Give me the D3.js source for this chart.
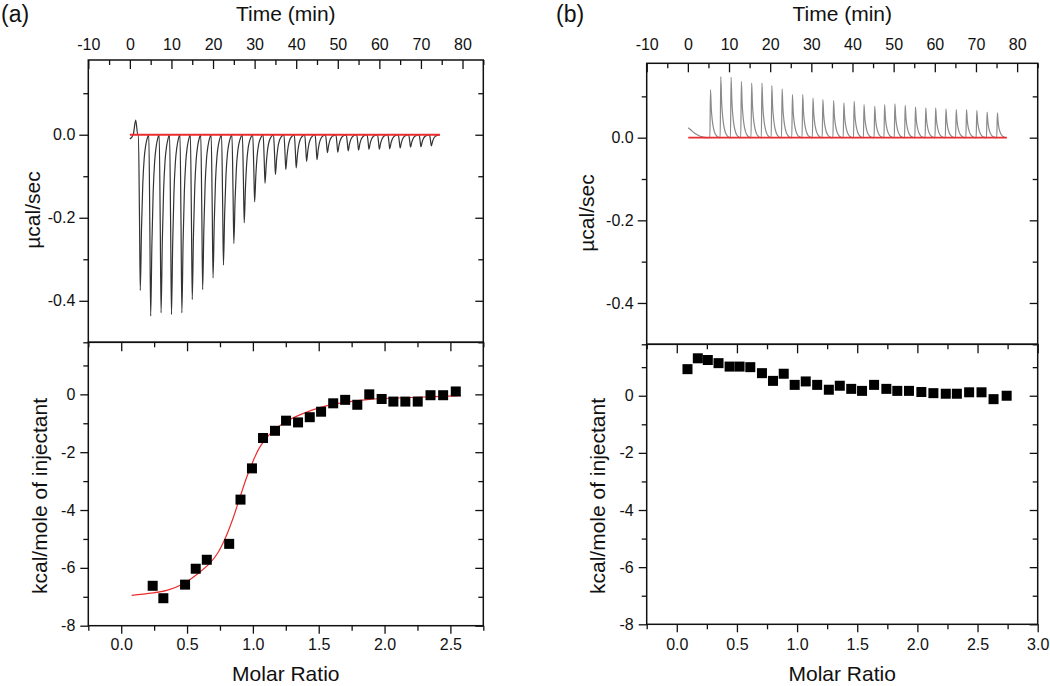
<!DOCTYPE html>
<html><head><meta charset="utf-8">
<script src="https://cdn.jsdelivr.net/npm/d3@7"></script>
<style>
body{margin:0;background:#fff}
svg{display:block}
text{font-family:"Liberation Sans",Arial,Helvetica,sans-serif;fill:#111}
</style>
</head><body>
<svg id="chart" width="1050" height="686"></svg>
<script>
// ---------- tick values ----------
const timeTicks = [-10, 0, 10, 20, 30, 40, 50, 60, 70, 80];
const timeMinorTicks = [-5, 5, 15, 25, 35, 45, 55, 65, 75, 85];
const powerTicks = [0.0, -0.2, -0.4];
const powerMinorTicks = [0.1, -0.1, -0.3, -0.5];
const heatTicks = [0, -2, -4, -6, -8];
const heatMinorTicks = [1, -1, -3, -5, -7];
const ratioTicksA = [0.0, 0.5, 1.0, 1.5, 2.0, 2.5];
const ratioMinorTicksA = [-0.25, 0.25, 0.75, 1.25, 1.75, 2.25, 2.75];
const ratioTicksB = [0.0, 0.5, 1.0, 1.5, 2.0, 2.5, 3.0];
const ratioMinorTicksB = [-0.25, 0.25, 0.75, 1.25, 1.75, 2.25, 2.75];

// ---------- panel (a): raw thermogram ----------
const preTimeA = [0.0, 0.8, 1.4, 1.9];
const preValA = [-0.01, 0.0, 0.035, 0.0];
const peakTimesA = [2.5, 5, 7.5, 10, 12.5, 15, 17.5, 20, 22.5, 25, 27.5, 30, 32.5, 35, 37.5,
  40, 42.5, 45, 47.5, 50, 52.5, 55, 57.5, 60, 62.5, 65, 67.5, 70, 72.5];
const peakDepthsA = [-0.375, -0.437, -0.429, -0.433, -0.429, -0.397, -0.373, -0.345, -0.314, -0.262,
  -0.212, -0.162, -0.117, -0.096, -0.084, -0.080, -0.064, -0.060, -0.043, -0.042,
  -0.039, -0.037, -0.035, -0.035, -0.034, -0.032, -0.030, -0.029, -0.027];
const peakShapeOffA = [-0.45, -0.2, 0, 0.3, 0.6, 0.95, 1.3, 1.7, 2.05];
const peakShapeFracA = [0, 0.5, 1, 0.6, 0.32, 0.15, 0.07, 0.02, 0];
const baselineA = [0, 74.6];

// ---------- panel (a): integrated heats ----------
const ratioA = [0.239, 0.320, 0.485, 0.566, 0.650, 0.820, 0.906, 0.993, 1.077, 1.168, 1.252, 1.343,
  1.432, 1.518, 1.610, 1.701, 1.793, 1.884, 1.978, 2.067, 2.158, 2.252, 2.349, 2.445, 2.541];
const heatA = [-6.62, -7.05, -6.58, -6.03, -5.72, -5.17, -3.64, -2.56, -1.51, -1.26, -0.91, -0.97,
  -0.79, -0.60, -0.31, -0.19, -0.36, 0.0, -0.16, -0.25, -0.25, -0.25, -0.03, -0.03, 0.10];
const fitRatioA = [0.079, 0.346, 0.472, 0.596, 0.675, 0.738, 0.790, 0.848, 0.904, 0.955, 1.006,
  1.056, 1.132, 1.234, 1.361, 1.564, 1.869, 2.25, 2.58];
const fitHeatA = [-6.95, -6.78, -6.55, -6.15, -5.83, -5.45, -4.98, -4.30, -3.53, -2.84, -2.26,
  -1.80, -1.36, -0.99, -0.70, -0.39, -0.18, -0.10, -0.045];

// ---------- panel (b): raw thermogram ----------
const preTimeB = [0.1, 0.8, 1.5, 2.5, 3.5, 4.5, 5.0];
const preValB = [0.024, 0.018, 0.012, 0.006, 0.002, 0.0, 0.0];
const peakTimesB = [5.5, 8, 10.5, 13, 15.5, 18, 20.4, 22.9, 25.4, 27.9, 30.4, 32.8, 35.4, 37.9, 40.4,
  42.8, 45.4, 47.8, 50.3, 52.8, 55.3, 57.8, 60.2, 62.7, 65.2, 67.7, 70.2, 72.7, 75.2];
const peakHeightsB = [0.116, 0.148, 0.146, 0.136, 0.132, 0.132, 0.126, 0.118, 0.104, 0.104,
  0.096, 0.092, 0.090, 0.084, 0.088, 0.080, 0.076, 0.080, 0.082, 0.078,
  0.074, 0.072, 0.072, 0.070, 0.068, 0.068, 0.066, 0.062, 0.060];
const peakShapeOffB = [-0.15, 0, 0.2, 0.45, 0.8, 1.2, 1.7, 2.2];
const peakShapeFracB = [0, 1, 0.6, 0.35, 0.17, 0.07, 0.02, 0];
const baselineB = [0.1, 77.5];

// ---------- panel (b): integrated heats ----------
const ratioB = [0.089, 0.175, 0.258, 0.347, 0.439, 0.522, 0.611, 0.708, 0.800, 0.889, 0.980, 1.072,
  1.167, 1.264, 1.355, 1.450, 1.540, 1.640, 1.742, 1.833, 1.930, 2.033, 2.133, 2.236, 2.328,
  2.430, 2.533, 2.633, 2.742];
const heatB = [0.93, 1.31, 1.25, 1.14, 1.02, 1.02, 1.00, 0.79, 0.52, 0.77, 0.38, 0.50, 0.38, 0.21,
  0.35, 0.24, 0.17, 0.38, 0.24, 0.17, 0.17, 0.13, 0.09, 0.07, 0.07, 0.12, 0.12, -0.12, 0.0];

// ---------- drawing ----------
const svg = d3.select("#chart");
const RED = "#ec2d2d";
const timeDomain = [-10, 85];
const powerDomain = [-0.5, 0.18];
const heatDomain = [-8, 1.8];
const FONT = '"Liberation Sans",Arial,Helvetica,sans-serif';

function styleAxis(g) {
  g.select(".domain").remove();
  g.attr("font-family", FONT).attr("font-size", 16);
  g.selectAll(".tick line").attr("stroke", "#111").attr("stroke-width", 1.3);
  g.selectAll(".tick text").attr("fill", "#111");
}

function buildTrace(preT, preV, times, amps, offs, fracs) {
  const pts = preT.map((t, i) => [t, preV[i]]);
  times.forEach((t, i) => {
    offs.forEach((o, j) => pts.push([t + o, fracs[j] * amps[i]]));
  });
  return pts;
}

function drawPanel(p) {
  const g = svg.append("g");
  const xT = d3.scaleLinear().domain(timeDomain).range([p.x0, p.x1]);
  const yP = d3.scaleLinear().domain(powerDomain).range([p.ySplit, p.yTop]);
  const xR = d3.scaleLinear().domain(p.ratioDomain).range([p.x0, p.x1]);
  const yH = d3.scaleLinear().domain(heatDomain).range([p.yBot, p.ySplit]);

  const fmt1 = d => d.toFixed(1);
  const fmt0 = d => String(d);

  g.append("g").attr("transform", `translate(0,${p.yTop})`)
    .call(d3.axisTop(xT).tickValues(timeTicks).tickSize(-9).tickPadding(p.yTop - 50).tickFormat(fmt0)).call(styleAxis);
  g.append("g").attr("transform", `translate(0,${p.yTop})`)
    .call(d3.axisTop(xT).tickValues(timeMinorTicks).tickSize(-5).tickFormat("")).call(styleAxis);
  g.append("g").attr("transform", `translate(${p.x0},0)`)
    .call(d3.axisLeft(yP).tickValues(powerTicks).tickSize(9).tickPadding(4).tickFormat(fmt1)).call(styleAxis);
  g.append("g").attr("transform", `translate(${p.x0},0)`)
    .call(d3.axisLeft(yP).tickValues(powerMinorTicks).tickSize(5).tickFormat("")).call(styleAxis);
  g.append("g").attr("transform", `translate(${p.x1},0)`)
    .call(d3.axisRight(yP).tickValues(powerTicks).tickSize(-8).tickFormat("")).call(styleAxis);
  g.append("g").attr("transform", `translate(${p.x1},0)`)
    .call(d3.axisRight(yP).tickValues(powerMinorTicks).tickSize(-5).tickFormat("")).call(styleAxis);

  g.append("g").attr("transform", `translate(${p.x0},0)`)
    .call(d3.axisLeft(yH).tickValues(heatTicks).tickSize(8).tickPadding(5).tickFormat(fmt0)).call(styleAxis);
  g.append("g").attr("transform", `translate(${p.x0},0)`)
    .call(d3.axisLeft(yH).tickValues(heatMinorTicks).tickSize(5).tickFormat("")).call(styleAxis);
  g.append("g").attr("transform", `translate(${p.x1},0)`)
    .call(d3.axisRight(yH).tickValues(heatTicks).tickSize(-8).tickFormat("")).call(styleAxis);
  g.append("g").attr("transform", `translate(${p.x1},0)`)
    .call(d3.axisRight(yH).tickValues(heatMinorTicks).tickSize(-5).tickFormat("")).call(styleAxis);
  g.append("g").attr("transform", `translate(0,${p.yBot})`)
    .call(d3.axisBottom(xR).tickValues(p.ratioTicks).tickSize(8).tickPadding(638.6 - p.yBot - 8).tickFormat(fmt1)).call(styleAxis);
  g.append("g").attr("transform", `translate(0,${p.yBot})`)
    .call(d3.axisBottom(xR).tickValues(p.ratioMinor).tickSize(5).tickFormat("")).call(styleAxis);
  g.append("g").attr("transform", `translate(0,${p.ySplit})`)
    .call(d3.axisBottom(xR).tickValues(p.ratioTicks).tickSize(9).tickFormat("")).call(styleAxis);
  g.append("g").attr("transform", `translate(0,${p.ySplit})`)
    .call(d3.axisBottom(xR).tickValues(p.ratioMinor).tickSize(5).tickFormat("")).call(styleAxis);

  g.append("rect").attr("x", p.x0).attr("y", p.yTop).attr("width", p.x1 - p.x0).attr("height", p.ySplit - p.yTop)
    .attr("fill", "none").attr("stroke", "#111").attr("stroke-width", 1.5);
  g.append("rect").attr("x", p.x0).attr("y", p.ySplit).attr("width", p.x1 - p.x0).attr("height", p.yBot - p.ySplit)
    .attr("fill", "none").attr("stroke", "#111").attr("stroke-width", 1.5);

  const line = d3.line().x(d => xT(d[0])).y(d => yP(d[1])).curve(d3.curveMonotoneX);
  g.append("path").datum(p.trace).attr("d", line).attr("fill", "none")
    .attr("stroke", p.traceColor).attr("stroke-width", 1.2).attr("stroke-linejoin", "round");
  g.append("line").attr("x1", xT(p.baseline[0])).attr("x2", xT(p.baseline[1]))
    .attr("y1", yP(0)).attr("y2", yP(0)).attr("stroke", RED).attr("stroke-width", 1.8);

  if (p.fitX) {
    const fitLine = d3.line().x(d => xR(d[0])).y(d => yH(d[1])).curve(d3.curveCatmullRom.alpha(0.5));
    g.append("path").datum(p.fitX.map((x, i) => [x, p.fitY[i]])).attr("d", fitLine)
      .attr("fill", "none").attr("stroke", RED).attr("stroke-width", 1.2);
  }
  const S = 10;
  g.selectAll("rect.pt").data(p.ptX.map((x, i) => [x, p.ptY[i]])).enter().append("rect")
    .attr("class", "pt").attr("x", d => xR(d[0]) - S / 2).attr("y", d => yH(d[1]) - S / 2)
    .attr("width", S).attr("height", S).attr("fill", "#000");

  const cx = (p.x0 + p.x1) / 2;
  g.append("text").attr("x", cx).attr("y", 21).attr("text-anchor", "middle").attr("font-size", 21).text("Time (min)");
  g.append("text").attr("x", cx).attr("y", 681).attr("text-anchor", "middle").attr("font-size", 21).text("Molar Ratio");
  g.append("text").attr("transform", `translate(${p.yLab1[0]},${p.yLab1[1]}) rotate(-90)`)
    .attr("text-anchor", "middle").attr("font-size", 21).text("µcal/sec");
  g.append("text").attr("transform", `translate(${p.yLab2[0]},${p.yLab2[1]}) rotate(-90)`)
    .attr("text-anchor", "middle").attr("font-size", 21).text("kcal/mole of injectant");
  g.append("text").attr("x", p.tag[0]).attr("y", p.tag[1]).attr("font-size", 23).text(p.tagText);
}

drawPanel({
  x0: 88.3, x1: 483.3, yTop: 60, ySplit: 342.3, yBot: 625.7,
  ratioDomain: [-0.25, 2.75], ratioTicks: ratioTicksA, ratioMinor: ratioMinorTicksA,
  trace: buildTrace(preTimeA, preValA, peakTimesA, peakDepthsA, peakShapeOffA, peakShapeFracA),
  traceColor: "#333", baseline: baselineA,
  fitX: fitRatioA, fitY: fitHeatA, ptX: ratioA, ptY: heatA,
  yLab1: [40, 210], yLab2: [47, 496], tag: [1, 22], tagText: "(a)"
});
drawPanel({
  x0: 646.7, x1: 1037.7, yTop: 63.3, ySplit: 344.3, yBot: 624.3,
  ratioDomain: [-0.25, 3.0], ratioTicks: ratioTicksB, ratioMinor: ratioMinorTicksB,
  trace: buildTrace(preTimeB, preValB, peakTimesB, peakHeightsB, peakShapeOffB, peakShapeFracB),
  traceColor: "#8a8a8a", baseline: baselineB,
  fitX: null, fitY: null, ptX: ratioB, ptY: heatB,
  yLab1: [594, 213], yLab2: [605, 496], tag: [556, 22], tagText: "(b)"
});
</script>
</body></html>
